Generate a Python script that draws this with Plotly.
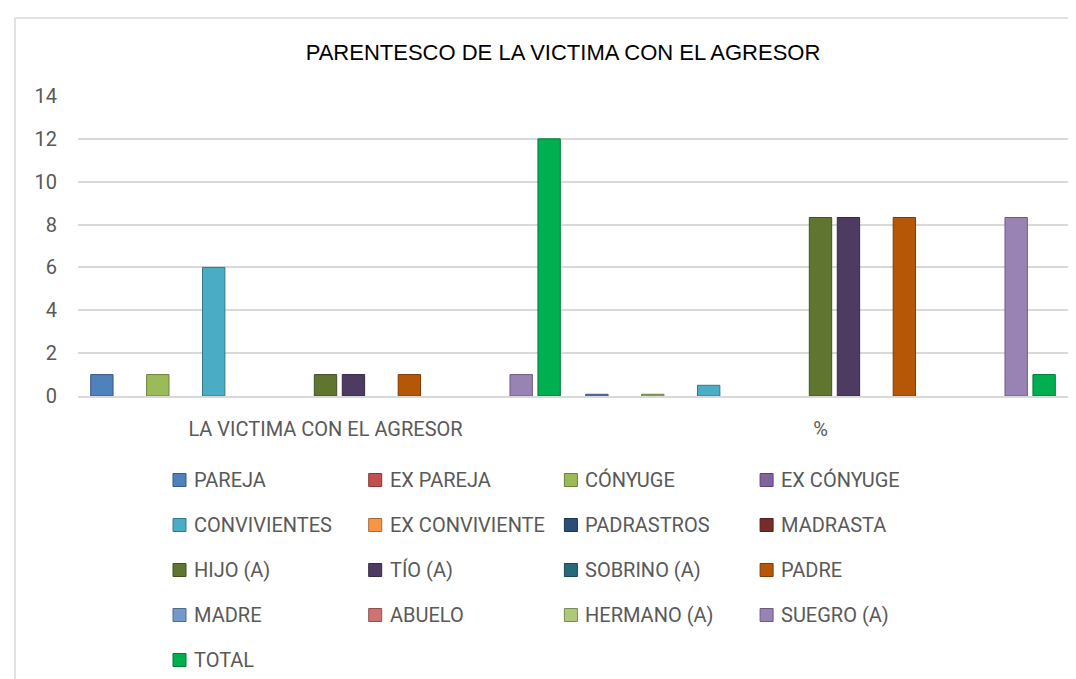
import plotly.graph_objects as go

categories = ["LA VICTIMA CON EL AGRESOR", "%"]
series = ["PAREJA", "EX PAREJA", "CÓNYUGE", "EX CÓNYUGE", "CONVIVIENTES",
          "EX CONVIVIENTE", "PADRASTROS", "MADRASTA", "HIJO (A)", "TÍO (A)",
          "SOBRINO (A)", "PADRE", "MADRE", "ABUELO", "HERMANO (A)",
          "SUEGRO (A)", "TOTAL"]
victima_vals = [1, 0, 1, 0, 6, 0, 0, 0, 1, 1, 0, 1, 0, 0, 0, 1, 12]
pct_vals = [0.08, 0, 0.08, 0, 0.5, 0, 0, 0, 8.33, 8.33, 0, 8.33, 0, 0, 0, 8.33, 1]
colors = ["#4F81BD", "#C0504D", "#9BBB59", "#8064A2", "#4BACC6", "#F79646",
          "#2C4D75", "#772C2A", "#5F7530", "#4D3B62", "#276A7C", "#B65708",
          "#729ACA", "#CD7371", "#AFC97A", "#9983B5", "#00B050"]
y_ticks = [0, 2, 4, 6, 8, 10, 12, 14]

def darker(hexc, f=0.7):
    r, g, b = int(hexc[1:3], 16), int(hexc[3:5], 16), int(hexc[5:7], 16)
    return "rgb(%d,%d,%d)" % (r * f, g * f, b * f)

fig = go.Figure()
for name, v1, v2, c in zip(series, victima_vals, pct_vals, colors):
    vals = [v1, v2]
    fig.add_trace(go.Bar(
        name=name, x=categories, y=vals, showlegend=False,
        marker=dict(color=c, line=dict(color=darker(c),
                                       width=[1 if v > 0 else 0 for v in vals])),
    ))

W, H = 1076, 679
L, R, T, B = 70, 16, 88, 291
pw, ph = W - L - R, H - T - B

def px(x):
    return (x - L) / pw

def py(y):
    return (H - B - y) / ph

TXT = "Roboto, Liberation Sans, sans-serif"
GRAY = "#595959"

# chart-area border (top and left edges visible; the rest is cropped)
shapes = [
    dict(type="line", xref="paper", yref="paper",
         x0=px(7), x1=px(W + 5), y0=py(10), y1=py(10),
         line=dict(color="#d9d9d9", width=1.5), layer="below"),
    dict(type="line", xref="paper", yref="paper",
         x0=px(7), x1=px(7), y0=py(10), y1=py(H + 5),
         line=dict(color="#d9d9d9", width=1.5), layer="below"),
]
annotations = []
col_x0, col_dx, row_y0, row_dy, msz = 165, 195.7, 472, 45, 13
for i, (name, c) in enumerate(zip(series, colors)):
    cx = col_x0 + (i % 4) * col_dx
    cy = row_y0 + (i // 4) * row_dy
    shapes.append(dict(type="rect", xref="paper", yref="paper",
                       x0=px(cx), x1=px(cx + msz), y0=py(cy + msz / 2), y1=py(cy - msz / 2),
                       fillcolor=c, line=dict(color=darker(c), width=1)))
    annotations.append(dict(text=name, xref="paper", yref="paper",
                            x=px(cx + msz + 6), y=py(cy), xanchor="left", yanchor="middle",
                            showarrow=False, font=dict(family=TXT, size=20, color=GRAY)))

fig.update_layout(
    width=W, height=H,
    margin=dict(l=L, r=R, t=T, b=B, pad=0, autoexpand=False),
    paper_bgcolor="white", plot_bgcolor="white",
    barmode="group", bargap=0.04, bargroupgap=0.2,
    showlegend=False,
    font=dict(family=TXT, size=20, color=GRAY),
    title=dict(text="PARENTESCO DE LA VICTIMA CON EL AGRESOR",
               x=px(555), xref="paper", xanchor="center",
               y=1 - 44 / H, yref="container", yanchor="middle",
               font=dict(family="Liberation Sans, Arial, sans-serif", size=22, color="#000000")),
    xaxis=dict(showgrid=False, showline=True, linecolor="#d9d9d9", linewidth=1.5,
               ticks="", ticklabelstandoff=14, tickfont=dict(size=20, color=GRAY)),
    yaxis=dict(range=[0, 14], tickvals=y_ticks, showgrid=True, gridcolor="#d9d9d9",
               gridwidth=1.5, zeroline=False, showline=False, ticks="",
               ticklabelstandoff=20, tickfont=dict(size=20, color=GRAY)),
    shapes=shapes,
    annotations=annotations,
)

fig.write_html("out.html")
